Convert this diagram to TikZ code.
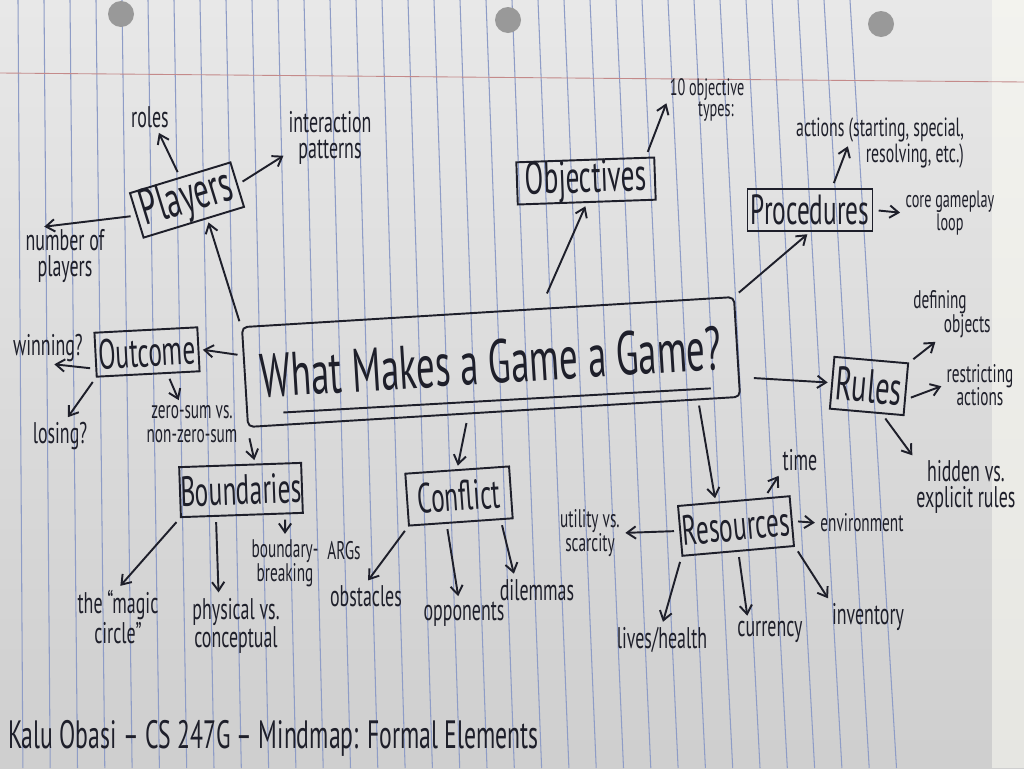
\documentclass[tikz,border=0pt]{standalone}
\usepackage{fontspec}
\setmainfont{PT Sans}
\newfontfamily\hand[FakeStretch=0.6]{PT Sans}
\usetikzlibrary{calc,arrows.meta}
\definecolor{ink}{HTML}{1E1F2A}
\definecolor{rulecol}{HTML}{8E9CC6}
\definecolor{margincol}{HTML}{C48A8A}
\begin{document}
\begin{tikzpicture}[x=0.02cm, y=-0.02cm,
  box/.style={draw=ink, line width=1.1pt, text=ink, inner sep=0pt, font={\hand\fontsize{24}{26}\selectfont}},
  note/.style={text=ink, inner sep=1pt, align=center, font={\hand\fontsize{17}{15}\selectfont}},
  small/.style={text=ink, inner sep=1pt, align=center, font={\hand\fontsize{14.5}{13.5}\selectfont}},
  tiny/.style={text=ink, inner sep=1pt, align=center, font={\hand\fontsize{13.5}{12}\selectfont}},
  arr/.style={-{Straight Barb[length=5pt,width=7pt]}, draw=ink, line width=1.1pt, shorten >=2pt, shorten <=3pt}]

\useasboundingbox (0,0) rectangle (1024,768);
\shade [top color=black!9, bottom color=black!19] (0,0) rectangle (1024,768);
\fill [black!7!yellow!4!white, opacity=.5] (992,0) rectangle (1024,768);
\foreach \x in {18,44,...,850}
  \draw [rulecol, line width=.6pt] (\x,0) -- ({1.05*\x+4},768);
\draw [margincol, line width=.5pt] (0,73) -- (1024,82);
\fill [black!40] (121,14) circle (13);
\fill [black!40] (508,20) circle (13);
\fill [black!40] (881,24) circle (13);

\node [box, minimum width=9.86cm, minimum height=2cm, rotate=3.5, rounded corners=3pt, font={\hand\fontsize{35}{36}\selectfont}] (main) at (491,362) {What Makes a Game a Game?};
\draw [ink, line width=1.1pt] ($(main.south west)!.075!(main.south east) + .13*(main.north) - .13*(main.south)$) -- ($(main.south west)!.94!(main.south east) + .11*(main.north) - .11*(main.south)$);

\node [box, minimum width=2.1cm, minimum height=.9cm, rotate=17, font={\hand\fontsize{29}{30}\selectfont}] (players) at (187,200) {Players};
\node [box, minimum width=2.06cm, minimum height=.88cm, rotate=3] (outcome) at (147,352) {Outcome};
\node [box, minimum width=2.44cm, minimum height=1cm, rotate=2] (boundaries) at (241,490) {Boundaries};
\node [box, minimum width=2.08cm, minimum height=1.04cm, rotate=4] (conflict) at (459,496) {Conflict};
\node [box, minimum width=2.76cm, minimum height=.8cm, rotate=2, font={\hand\fontsize{26}{28}\selectfont}] (objectives) at (586,181) {Objectives};
\node [box, minimum width=2.5cm, minimum height=.84cm] (procedures) at (810,210) {Procedures};
\node [box, minimum width=1.48cm, minimum height=1.04cm, rotate=-5, font={\hand\fontsize{27}{28}\selectfont}] (rules) at (869,386) {Rules};
\node [box, minimum width=2.24cm, minimum height=1cm, rotate=5] (resources) at (736,526) {Resources};

\node [note] (roles) at (150,117) {roles};
\node [note] (inter) at (330,138) {interaction\\patterns};
\node [note] (number) at (65,256) {number of\\players};
\node [note] (winning) at (48,348) {winning?};
\node [note] (losing) at (60,436) {losing?};
\node [small] (zerosum) at (192,424) {zero-sum vs.\\non-zero-sum};
\node [note] (magic) at (118,617) {the “magic\\circle”};
\node [note] (physical) at (236,626) {physical vs.\\conceptual};
\node [small] (breaking) at (285,563) {boundary-\\breaking};
\node [small] (args) at (344,551) {ARGs};
\node [note] (obstacles) at (366,596) {obstacles};
\node [note] (opponents) at (464,614) {opponents};
\node [note] (dilemmas) at (537,590) {dilemmas};
\node [small] (utility) at (590,533) {utility vs.\\scarcity};
\node [note] (time) at (800,460) {time};
\node [small] (environment) at (862,523) {environment};
\node [note] (lives) at (662,640) {lives/health};
\node [note] (currency) at (770,632) {currency};
\node [note] (inventory) at (868,617) {inventory};
\node [note] (hidden) at (966,487) {hidden vs.\\explicit rules};
\node [small] (restrict) at (980,385) {restricting\\actions};
\node [small, align=left] (defining) at (952,314) {defining\\\hspace{1.2em}objects};
\node [tiny] (core) at (950,213) {core gameplay\\loop};
\node [tiny, align=right, font={\hand\fontsize{15}{13}\selectfont}] (act) at (880,143) {actions (starting, special,\\resolving, etc.)};
\node [tiny, align=left] (types) at (707,100) {10 objective\\\hspace{1.2em}types:};
\node [note, anchor=west, font={\hand\fontsize{22.5}{24}\selectfont}] (footer) at (6,738) {Kalu Obasi – CS 247G – Mindmap: Formal Elements};

\draw [arr] (main.north west) -- (players.-60);
\draw [arr] (players.north) -- (roles.-60);
\draw [arr] (players.east) -- (inter.200);
\draw [arr] (players.west) -- (number.130);
\draw [arr] (main.175) -- (outcome.east);
\draw [arr] (outcome.195) -- (winning.-80);
\draw [arr] (outcome.south west) -- (losing.70);
\draw [arr] (outcome.-50) -- (zerosum.120);
\draw [arr, shorten <=6pt] (main.south west) -- (boundaries.60);
\draw [arr] (boundaries.south west) -- (magic.north);
\draw [arr] (boundaries.-135) -- (physical.120);
\draw [arr] (boundaries.-31) -- (breaking.north);
\draw [arr, shorten <=5pt] (main.-117) -- (conflict.north);
\draw [arr] (conflict.south west) -- (obstacles.north);
\draw [arr] (conflict.-118) -- (opponents.110);
\draw [arr] (conflict.-34) -- (dilemmas.150);
\draw [arr, shorten <=9pt] (main.44) -- (objectives.south);
\draw [arr] (objectives.20) -- (types.west);
\draw [arr] (main.north east) -- (procedures.south);
\draw [arr] (procedures.45) -- ($(act.west)!.32!(act.east)$);
\draw [arr] (procedures.east) -- (core.west);
\draw [arr, shorten <=8pt] (main.-7) -- (rules.west);
\draw [arr] (rules.north east) -- ($(defining.south west)!.33!(defining.south east)$);
\draw [arr] (rules.-15) -- (restrict.west);
\draw [arr] (rules.-60) -- (hidden.north west);
\draw [arr] (main.-14.5) -- (resources.125);
\draw [arr] (resources.40) -- (time.south west);
\draw [arr] (resources.east) -- (environment.west);
\draw [arr] (resources.west) -- (utility.east);
\draw [arr] (resources.south west) -- (lives.north);
\draw [arr] (resources.south) -- (currency.150);
\draw [arr] (resources.south east) -- (inventory.north west);
\end{tikzpicture}
\end{document}
